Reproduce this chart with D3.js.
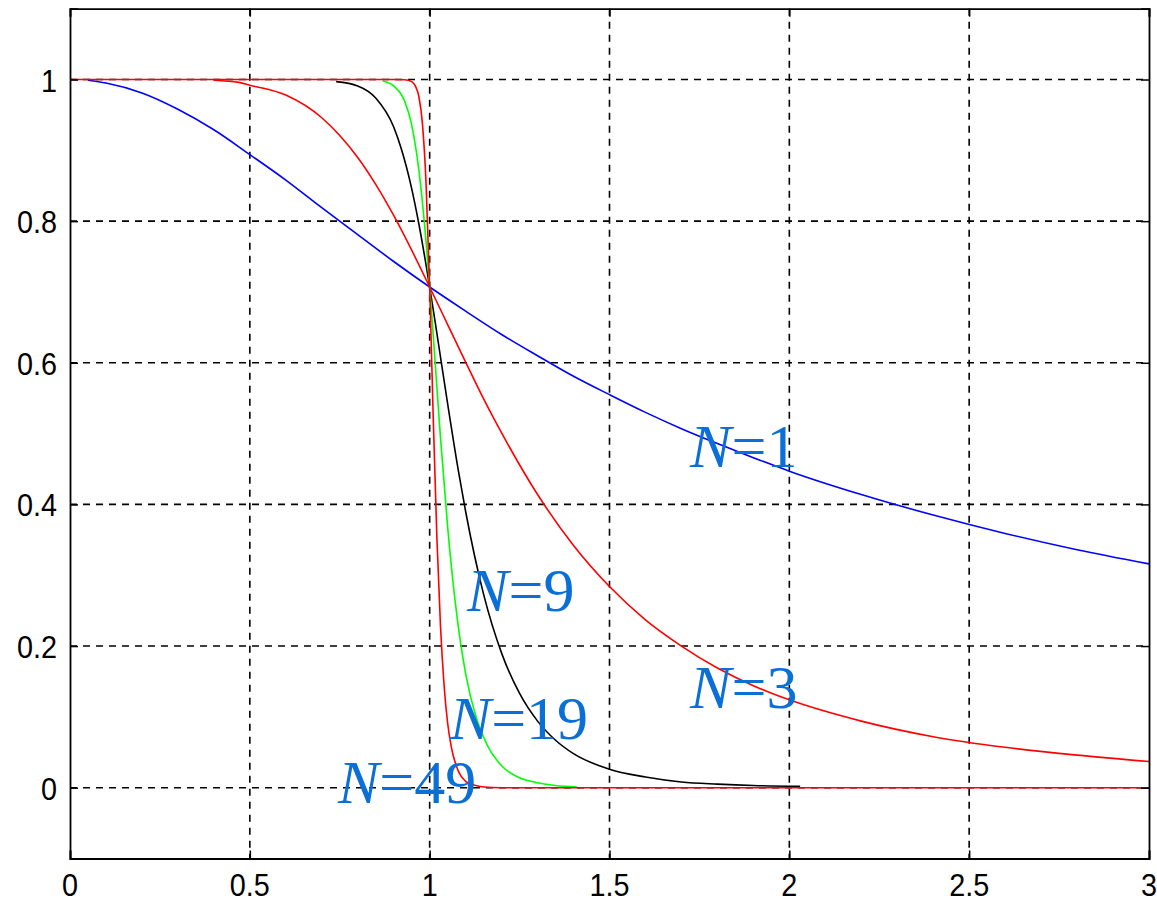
<!DOCTYPE html>
<html>
<head>
<meta charset="utf-8">
<script src="https://cdn.jsdelivr.net/npm/d3@7"></script>
<style>
  html, body { margin: 0; padding: 0; background: #ffffff; }
  svg { display: block; }
</style>
</head>
<body>
<svg id="chart" width="1157" height="903"></svg>
<script>
// ---------- data ----------
const xTicks = [0, 0.5, 1, 1.5, 2, 2.5, 3];
const xTickLabels = ["0", "0.5", "1", "1.5", "2", "2.5", "3"];
const yTicks = [0, 0.2, 0.4, 0.6, 0.8, 1];
const yTickLabels = ["0", "0.2", "0.4", "0.6", "0.8", "1"];

// N = 1 (blue)
const n1X = [0.05, 0.1, 0.2, 0.3, 0.4, 0.5, 0.6, 0.7, 0.8, 0.9, 1.0, 1.1, 1.2, 1.3, 1.4, 1.5, 1.6, 1.7, 1.8, 1.9, 2.0, 2.2, 2.4, 2.6, 2.8, 3.0];
const n1Y = [0.999, 0.995, 0.981, 0.958, 0.929, 0.894, 0.858, 0.819, 0.781, 0.743, 0.707, 0.673, 0.640, 0.610, 0.581, 0.555, 0.530, 0.507, 0.486, 0.466, 0.447, 0.414, 0.385, 0.359, 0.336, 0.316];

// N = 3 (red)
const n3X = [0.4, 0.47, 0.5, 0.6, 0.7, 0.75, 0.8, 0.85, 0.9, 0.95, 1.0, 1.05, 1.1, 1.15, 1.2, 1.3, 1.4, 1.5, 1.6, 1.7, 1.8, 1.9, 2.0, 2.2, 2.4, 2.6, 2.8, 3.0];
const n3Y = [0.999, 0.996, 0.992, 0.978, 0.946, 0.921, 0.890, 0.852, 0.808, 0.759, 0.707, 0.654, 0.601, 0.549, 0.501, 0.414, 0.342, 0.284, 0.237, 0.200, 0.169, 0.144, 0.124, 0.094, 0.072, 0.057, 0.046, 0.037];

// N = 9 (black)
const n9X = [0.74, 0.8, 0.85, 0.9, 0.92, 0.95, 0.97, 1.0, 1.02, 1.05, 1.08, 1.1, 1.15, 1.2, 1.25, 1.3, 1.35, 1.4, 1.5, 1.6, 1.7, 1.8, 1.9, 2.03];
const n9Y = [0.997, 0.991, 0.974, 0.933, 0.904, 0.846, 0.796, 0.707, 0.642, 0.542, 0.447, 0.390, 0.273, 0.190, 0.133, 0.094, 0.067, 0.048, 0.026, 0.015, 0.008, 0.005, 0.003, 0.002];

// N = 19 (green)
const n19X = [0.87, 0.9, 0.93, 0.95, 0.97, 0.99, 1.0, 1.01, 1.03, 1.05, 1.07, 1.1, 1.13, 1.16, 1.2, 1.25, 1.3, 1.35, 1.41];
const n19Y = [0.998, 0.991, 0.970, 0.936, 0.872, 0.771, 0.707, 0.638, 0.495, 0.368, 0.267, 0.161, 0.098, 0.060, 0.031, 0.014, 0.007, 0.003, 0.001];

// N = 49 (red)
const n49X = [0, 0.5, 0.9, 0.93, 0.95, 0.96, 0.97, 0.98, 0.99, 1.0, 1.01, 1.02, 1.03, 1.04, 1.05, 1.06, 1.08, 1.1, 1.12, 1.15, 1.2, 2.0, 3.0];
const n49Y = [1, 1, 1, 0.9996, 0.997, 0.991, 0.976, 0.937, 0.853, 0.707, 0.521, 0.354, 0.229, 0.145, 0.091, 0.058, 0.023, 0.009, 0.004, 0.001, 0, 0, 0];

const seriesNames = ["N=1", "N=3", "N=9", "N=19", "N=49"];
const seriesColors = ["#0000ff", "#ff0000", "#000000", "#00ff00", "#ff0000"];

// label anchors in data coordinates (left of text, baseline)
const labelText = ["1", "3", "9", "19", "49"];
const labelX = [1.724, 1.724, 1.104, 1.056, 0.745];
const labelY = [0.453, 0.112, 0.249, 0.069, -0.022];

// ---------- layout ----------
const svg = d3.select("#chart");
const pLeft = 70, pRight = 1149, pTop = 8.7, pBottom = 858.5;
const x = d3.scaleLinear().domain([0, 3]).range([pLeft, pRight]);
const y = d3.scaleLinear().domain([-0.1, 1.1]).range([pBottom, pTop]);

svg.append("rect").attr("width", 1157).attr("height", 903).attr("fill", "#fff");

// grid
const grid = svg.append("g").attr("stroke", "#000").attr("stroke-width", 1.6)
  .attr("stroke-dasharray", "7,6");
xTicks.filter(t => t > 0 && t < 3).forEach(t => {
  grid.append("line").attr("x1", x(t)).attr("x2", x(t)).attr("y1", pTop).attr("y2", pBottom);
});
yTicks.forEach(t => {
  grid.append("line").attr("y1", y(t)).attr("y2", y(t)).attr("x1", pLeft).attr("x2", pRight);
});

// curves
const line = d3.line().x(d => x(d[0])).y(d => y(d[1])).curve(d3.curveMonotoneX);
const seriesData = [
  d3.zip(n1X, n1Y), d3.zip(n3X, n3Y), d3.zip(n9X, n9Y), d3.zip(n19X, n19Y), d3.zip(n49X, n49Y)
];
seriesData.forEach((pts, i) => {
  svg.append("path").datum(pts).attr("d", line)
    .attr("fill", "none").attr("stroke", seriesColors[i]).attr("stroke-width", 1.6)
    .attr("stroke-linejoin", "round");
});

// axes box (inward ticks)
const axB = d3.axisBottom(x).tickValues(xTicks).tickSize(-8).tickFormat("");
const axT = d3.axisTop(x).tickValues(xTicks).tickSize(-8).tickFormat("");
const axL = d3.axisLeft(y).tickValues(yTicks).tickSize(-8).tickFormat("");
const axR = d3.axisRight(y).tickValues(yTicks).tickSize(-8).tickFormat("");
[[axB, `translate(0,${pBottom})`], [axT, `translate(0,${pTop})`], [axL, `translate(${pLeft},0)`], [axR, `translate(${pRight},0)`]]
  .forEach(([ax, tr]) => {
    const g = svg.append("g").attr("transform", tr).call(ax);
    g.select(".domain").attr("stroke", "#000").attr("stroke-width", 1.8);
    g.selectAll(".tick line").attr("stroke", "#000").attr("stroke-width", 1.5);
  });

// tick labels (narrow, tall digits like the reference)
svg.append("g").selectAll("text").data(xTicks).join("text")
  .attr("transform", d => `translate(${x(d)},896) scale(0.9,1)`)
  .attr("text-anchor", "middle")
  .attr("font-family", "Liberation Sans, Arial, sans-serif").attr("font-size", 32)
  .attr("fill", "#000")
  .text((d, i) => xTickLabels[i]);
svg.append("g").selectAll("text").data(yTicks).join("text")
  .attr("transform", d => `translate(57,${y(d) + 12}) scale(0.9,1)`)
  .attr("text-anchor", "end")
  .attr("font-family", "Liberation Sans, Arial, sans-serif").attr("font-size", 32)
  .attr("fill", "#000")
  .text((d, i) => yTickLabels[i]);

// curve labels
labelText.forEach((t, i) => {
  const txt = svg.append("text")
    .attr("x", x(labelX[i])).attr("y", y(labelY[i]))
    .attr("font-family", "Liberation Serif, Times New Roman, serif").attr("font-size", 62)
    .attr("fill", "#0a6fd6");
  txt.append("tspan").attr("font-style", "italic").text("N");
  txt.append("tspan").text("=" + t);
});
</script>
</body>
</html>
